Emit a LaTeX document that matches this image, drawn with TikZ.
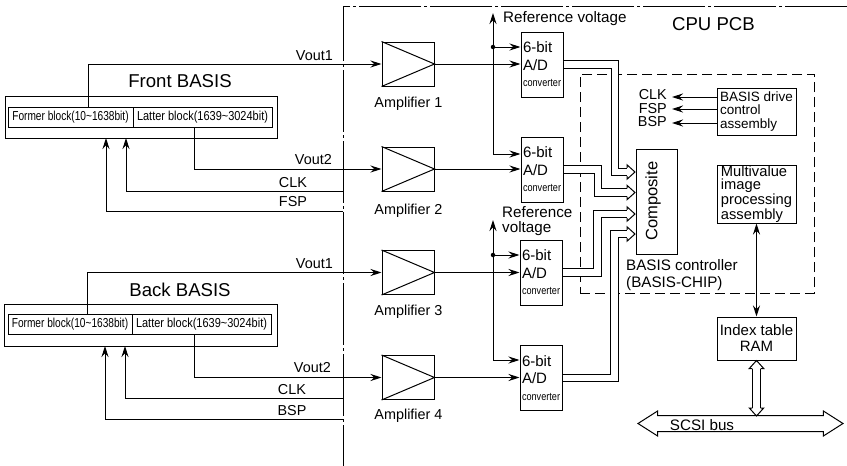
\documentclass[tikz,border=0pt]{standalone}
\usepackage{fontspec}
\usepackage{graphicx}
\setmainfont{Liberation Sans}
\usetikzlibrary{shapes,shapes.arrows,arrows.meta,positioning,calc}
\newcommand{\fsz}[1]{\fontsize{#1}{#1}\selectfont}
\newcommand{\bushead}[2]{\draw[line width=1pt,shift={(#1)},rotate=#2] (-8,-4.2) -- (-8,-7.2) -- (0,0) -- (-8,7.2) -- (-8,4.2);}
\newcommand{\busarrow}[3]{\draw[busline] (#1) -| ($(#3)+(-#2,0)$) -- ($(#3)+(-8,0)$); \bushead{#3}{0}}
\tikzset{
  sigarrow/.style={line width=1pt,-{Stealth[length=11pt,width=7pt]}},
  busline/.style={double,double distance=6.6pt,line width=1pt},
  basisbox/.style={draw,line width=1pt,minimum width=272.5pt,minimum height=42pt,inner sep=0pt},
  blockbox/.style={draw,line width=1pt,minimum height=20pt,inner sep=0pt,font=\fsz{13}},
  ampbox/.style={draw,line width=1pt,minimum width=52pt,minimum height=44pt,inner sep=0pt},
  adcbox/.style={draw,line width=1pt,minimum width=42pt,minimum height=65pt,inner sep=2pt,text width=38pt,align=left,font=\fsz{15},execute at begin node={\baselineskip=17.5pt}},
  unitbox/.style={draw,line width=1pt,minimum width=79pt,inner sep=0pt},
  lab/.style={inner sep=0pt,font=\fsz{14.4}},
  biglab/.style={inner sep=0pt,font=\fsz{18.6}},
  reflab/.style={inner sep=0pt,font=\fsz{15.2}},
}
\newcommand{\adctext}{6-bit\\A/D\\[-1pt]{\fsz{11}\scalebox{.83}[1]{converter}}}
\begin{document}
\begin{tikzpicture}[x=1pt,y=-1pt]
  \useasboundingbox (0,0) rectangle (847,466);

  % CPU board outline
  \coordinate (cpuend) at (847,6);
  \coordinate (cpucorner) at (343,6);
  \coordinate (cpufoot) at (343,466);
  \draw[line width=1pt,dash pattern=on 62pt off 3pt on 3pt off 3pt] (cpuend) -- (cpucorner) -- (cpufoot);
  \node[biglab] (cpulab) at (713.5,24) {CPU PCB};

  % Front BASIS
  \node[basisbox] (front) at (141.5,117) {};
  \node[blockbox,minimum width=125pt] (fformer) at (70.5,117) {\scalebox{.78}[1]{Former block(10\textasciitilde 1638bit)}};
  \node[blockbox,minimum width=139pt] (flatter) at (202.5,117) {\scalebox{.845}[1]{Latter block(1639\textasciitilde 3024bit)}};
  \node[biglab] (frontlab) at (180,81) {Front BASIS};

  % Back BASIS
  \node[basisbox] (back) at (141,325) {};
  \node[blockbox,minimum width=124pt] (bformer) at (70,324.5) {\scalebox{.78}[1]{Former block(10\textasciitilde 1638bit)}};
  \node[blockbox,minimum width=139pt] (blatter) at (201.5,324.5) {\scalebox{.845}[1]{Latter block(1639\textasciitilde 3024bit)}};
  \node[biglab] (backlab) at (180,290) {Back BASIS};

  % Amplifiers
  \node[ampbox] (amp1) at (408,64) {};
  \node[ampbox] (amp2) at (408,169) {};
  \node[ampbox] (amp3) at (408,272.5) {};
  \node[ampbox] (amp4) at (408,377.5) {};
  \foreach \amp in {amp1,amp2,amp3,amp4}
    \draw[line width=1pt] (\amp.north west) -- (\amp.east) -- (\amp.south west);
  \node[lab] (amp1lab) at (408.5,104) {Amplifier 1};
  \node[lab] (amp2lab) at (408.5,211) {Amplifier 2};
  \node[lab] (amp3lab) at (408.5,312) {Amplifier 3};
  \node[lab] (amp4lab) at (408.5,416) {Amplifier 4};

  % A/D converters
  \node[adcbox] (adc1) at (542,64.5) {\adctext};
  \node[adcbox] (adc2) at (542,169.5) {\adctext};
  \node[adcbox] (adc3) at (541,272.5) {\adctext};
  \node[adcbox] (adc4) at (541,378) {\adctext};

  % Signals from the BASIS blocks
  \coordinate (fvouta) at (88,107);
  \coordinate (fvoutb) at (194,127);
  \coordinate (bvouta) at (87,314);
  \coordinate (bvoutb) at (194,335);
  \draw[sigarrow] (fvouta) |- (amp1.west);
  \draw[sigarrow] (fvoutb) |- (amp2.west);
  \draw[sigarrow] (bvouta) |- (amp3.west);
  \draw[sigarrow] (bvoutb) |- (amp4.west);
  \node[lab,anchor=east] (fvoutalab) at (333,56) {Vout1};
  \node[lab,anchor=east] (fvoutblab) at (332,160) {Vout2};
  \node[lab,anchor=east] (bvoutalab) at (333,264) {Vout1};
  \node[lab,anchor=east] (bvoutblab) at (331,368) {Vout2};

  % Drive signals
  \coordinate (fclkend) at (343,191);
  \coordinate (ffspend) at (343,211);
  \coordinate (bclkend) at (343,398);
  \coordinate (bbspend) at (343,419);
  \coordinate (fclktip) at (126,138);
  \coordinate (ffsptip) at (106,138);
  \coordinate (bclktip) at (125,346);
  \coordinate (bbsptip) at (105,346);
  \draw[sigarrow] (fclkend) -| (fclktip);
  \draw[sigarrow] (ffspend) -| (ffsptip);
  \draw[sigarrow] (bclkend) -| (bclktip);
  \draw[sigarrow] (bbspend) -| (bbsptip);
  \node[lab] (fclklab) at (293,183) {CLK};
  \node[lab] (ffsplab) at (293,202) {FSP};
  \node[lab] (bclklab) at (292,390) {CLK};
  \node[lab] (bbsplab) at (292,411) {BSP};

  % Amplifier outputs
  \foreach \n in {1,2,3,4}
    \draw[sigarrow] (amp\n.east) -- (amp\n.east -| adc\n.west);

  % Reference voltages
  \coordinate (reftopa) at (493,13);
  \coordinate (refjoina) at (493,154);
  \coordinate (reftopb) at (493,220);
  \coordinate (refjoinb) at (493,360);
  \node[circle,fill,inner sep=0pt,minimum size=4.5pt] (dota) at (493,47) {};
  \node[circle,fill,inner sep=0pt,minimum size=4.5pt] (dotb) at (493,255) {};
  \draw[sigarrow] (refjoina) -- (reftopa);
  \draw[sigarrow] (refjoinb) -- (reftopb);
  \draw[sigarrow] (dota) -- (dota -| adc1.west);
  \draw[sigarrow] (refjoina) -- (refjoina -| adc2.west);
  \draw[sigarrow] (dotb) -- (dotb -| adc3.west);
  \draw[sigarrow] (refjoinb) -- (refjoinb -| adc4.west);
  \node[reflab,anchor=west] (refalab) at (503,19) {Reference voltage};
  \node[reflab,anchor=west,align=left,execute at begin node={\baselineskip=14.5pt}] (refblab) at (502,221) {Reference\\voltage};

  % BASIS controller
  \node[draw,dash pattern=on 10pt off 5pt,line width=1pt,minimum width=234pt,minimum height=219pt,inner sep=0pt] (controller) at (697,183.5) {};
  \node[reflab,anchor=west,align=left,execute at begin node={\baselineskip=17pt}] (controllerlab) at (626,275.5) {BASIS controller\\(BASIS-CHIP)};
  \node[draw,line width=1pt,minimum width=41pt,minimum height=105pt,inner sep=0pt] (composite) at (656.5,201.5) {};
  \node[rotate=90,inner sep=0pt,font=\fsz{16.5}] (compositelab) at (653,201) {Composite};

  % Buses into the composite block
  \coordinate (tipa) at (635,172);
  \coordinate (tipb) at (635,192.5);
  \coordinate (tipc) at (635,214);
  \coordinate (tipd) at (635,234);
  \busarrow{adc1.east}{20}{tipa}
  \busarrow{adc2.east}{37}{tipb}
  \busarrow{adc3.east}{37.5}{tipc}
  \busarrow{adc4.east}{20.5}{tipd}

  % Drive control
  \node[unitbox,minimum height=47pt,align=left,font=\fsz{13.5},execute at begin node={\baselineskip=13.6pt}] (drive) at (756.5,111.5) {BASIS drive\\control\\assembly};
  \node[lab,anchor=east] (clklab) at (667,95) {CLK};
  \node[lab,anchor=east] (fsplab) at (667,109) {FSP};
  \node[lab,anchor=east] (bsplab) at (667,122) {BSP};
  \draw[sigarrow,shorten >=5pt] (drive.west |- clklab) ++(0,2) -- ($(clklab.east)+(0,2)$);
  \draw[sigarrow,shorten >=5pt] (drive.west |- fsplab) -- (fsplab);
  \draw[sigarrow,shorten >=5pt] (drive.west |- bsplab) ++(0,1) -- ($(bsplab.east)+(0,1)$);

  % Image processing and RAM
  \node[unitbox,minimum height=58pt,align=left,font=\fsz{14.7},execute at begin node={\baselineskip=13.7pt}] (multi) at (756.5,194) {Multivalue\\image\\processing\\assembly};
  \node[unitbox,minimum height=43pt,align=center,font=\fsz{15},execute at begin node={\baselineskip=16pt}] (ram) at (756.5,338.5) {Index table\\RAM};
  \draw[line width=1pt,{Stealth[length=11pt,width=7pt]}-{Stealth[length=11pt,width=7pt]}] (multi.south) -- (ram.north);

  % SCSI bus
  \node[draw,line width=1pt,double arrow,double arrow head extend=4.5pt,double arrow tip angle=65,minimum width=24pt,minimum height=205pt,inner xsep=0pt,inner ysep=7.5pt] (scsi) at (740.5,423.5) {};
  \node[reflab] (scsilab) at (702,425) {SCSI bus};
  \coordinate (scsitop) at (756.5,416);
  \draw[busline] ($(ram.south)+(0,8)$) -- ($(scsitop)+(0,-8)$);
  \bushead{ram.south}{90}
  \bushead{scsitop}{-90}
\end{tikzpicture}
\end{document}
